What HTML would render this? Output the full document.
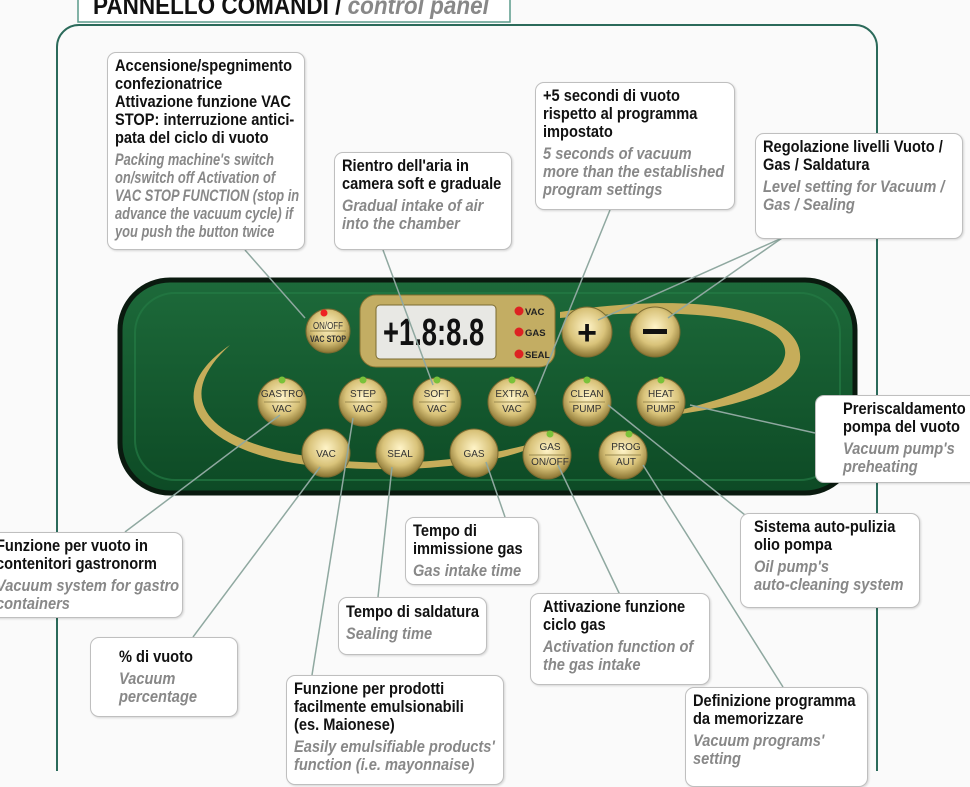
<!DOCTYPE html>
<html><head><meta charset="utf-8">
<style>
body{margin:0;width:970px;height:771px;overflow:hidden;background:#fafafa;position:relative;font-family:"Liberation Sans",sans-serif}
svg{position:absolute;left:0;top:0}
.b{position:absolute;background:#fff;border:1.5px solid #bfbfbf;border-radius:9px;box-shadow:1px 1px 2px rgba(0,0,0,.15);box-sizing:border-box;padding:4px 7px;overflow:hidden}
.b>div{transform:scaleX(.86);transform-origin:0 0;white-space:nowrap;font-size:17px;line-height:18px;font-weight:bold;color:#111}
.b i{display:block;color:#888;margin-top:4px}
.t{position:absolute;font-weight:bold;white-space:nowrap;transform:scaleX(.9);transform-origin:0 0}
</style></head><body>
<svg width="970" height="771" viewBox="0 0 970 771">
<defs>
<radialGradient id="g" cx="50%" cy="40%" r="60%"><stop offset="0" stop-color="#fff4c8"/><stop offset="0.6" stop-color="#d9c37a"/><stop offset="1" stop-color="#8a7432"/></radialGradient>
<linearGradient id="p" x1="0" y1="0" x2="0" y2="1"><stop offset="0" stop-color="#1d6a3a"/><stop offset="1" stop-color="#0d4a25"/></linearGradient>
</defs>
<rect x="78" y="-20" width="432" height="42" fill="#fff" stroke="#5a9a8a" stroke-width="1.5"/>
<rect x="57" y="25" width="820" height="800" rx="22" fill="#fafafa" stroke="#2b6a5a" stroke-width="2"/>
<rect x="120" y="280" width="735" height="213" rx="50" fill="url(#p)" stroke="#0a1a0f" stroke-width="5"/>
<rect x="135" y="293" width="705" height="187" rx="40" fill="none" stroke="#247a45" stroke-width="2" opacity=".7"/>
<path d="M230 345 C150 400 210 460 330 467 C430 475 520 460 545 440 C470 462 380 470 300 455 C200 438 175 395 230 345Z" fill="#c6ad5a"/>
<path d="M560 312 C700 290 805 310 800 360 C795 395 720 410 650 418 C720 400 780 385 785 355 C790 320 700 305 560 318Z" fill="#c6ad5a"/>
<rect x="360" y="295" width="195" height="72" rx="16" fill="#c3ad63" stroke="#8a7432"/>
<rect x="376" y="305" width="120" height="54" rx="4" fill="#e8e8e4" stroke="#7a6a30"/>
<text x="0" y="0" transform="translate(383,345) scale(0.72,1)" font-family="Liberation Sans,sans-serif" font-weight="bold" font-size="38" fill="#111">+1.8:8.8</text>
<g font-family="Liberation Sans,sans-serif" font-weight="bold" font-size="9.5" fill="#222">
<circle cx="519" cy="311" r="4.5" fill="#d22"/><text x="525" y="315">VAC</text>
<circle cx="519" cy="332" r="4.5" fill="#d22"/><text x="525" y="336">GAS</text>
<circle cx="519" cy="354" r="4.5" fill="#d22"/><text x="525" y="358">SEAL</text>
</g>
<g stroke="#7a6a30" fill="url(#g)">
<circle cx="328" cy="331" r="22"/>
<circle cx="587" cy="332" r="25"/><circle cx="655" cy="332" r="25"/>
<circle cx="282" cy="402" r="24"/><circle cx="363" cy="402" r="24"/><circle cx="437" cy="402" r="24"/><circle cx="512" cy="402" r="24"/><circle cx="587" cy="402" r="24"/><circle cx="661" cy="402" r="24"/>
<circle cx="326" cy="453" r="24"/><circle cx="400" cy="453" r="24"/><circle cx="474" cy="453" r="24"/><circle cx="547" cy="455" r="24"/><circle cx="623" cy="455" r="24"/>
</g>
<circle cx="324" cy="313" r="3.5" fill="#e22"/>
<g fill="#7ac23a"><circle cx="282" cy="380" r="3.5"/><circle cx="363" cy="380" r="3.5"/><circle cx="437" cy="380" r="3.5"/><circle cx="512" cy="380" r="3.5"/><circle cx="587" cy="380" r="3.5"/><circle cx="661" cy="380" r="3.5"/><circle cx="550" cy="434" r="3.5"/><circle cx="629" cy="434" r="3.5"/></g>
<g stroke="#9a8a50" stroke-width="1"><line x1="264" y1="402" x2="300" y2="402"/><line x1="345" y1="402" x2="381" y2="402"/><line x1="419" y1="402" x2="455" y2="402"/><line x1="494" y1="402" x2="530" y2="402"/><line x1="569" y1="402" x2="605" y2="402"/><line x1="643" y1="402" x2="679" y2="402"/><line x1="529" y1="455" x2="565" y2="455"/><line x1="605" y1="455" x2="641" y2="455"/><line x1="310" y1="331" x2="346" y2="331"/></g>
<g font-family="Liberation Sans,sans-serif" font-size="10" fill="#333" text-anchor="middle">
<text x="328" y="329" textLength="30" lengthAdjust="spacingAndGlyphs">ON/OFF</text><text x="328" y="342" font-weight="bold" font-size="9" textLength="36" lengthAdjust="spacingAndGlyphs">VAC STOP</text>
<text x="282" y="397">GASTRO</text><text x="282" y="412">VAC</text>
<text x="363" y="397">STEP</text><text x="363" y="412">VAC</text>
<text x="437" y="397">SOFT</text><text x="437" y="412">VAC</text>
<text x="512" y="397">EXTRA</text><text x="512" y="412">VAC</text>
<text x="587" y="397">CLEAN</text><text x="587" y="412">PUMP</text>
<text x="661" y="397">HEAT</text><text x="661" y="412">PUMP</text>
<text x="326" y="457">VAC</text><text x="400" y="457">SEAL</text><text x="474" y="457">GAS</text>
<text x="550" y="450">GAS</text><text x="550" y="465">ON/OFF</text>
<text x="626" y="450">PROG</text><text x="626" y="465">AUT</text>
</g>
<text x="587" y="344" text-anchor="middle" font-family="Liberation Sans" font-weight="bold" font-size="34" fill="#111">+</text>
<rect x="643" y="329" width="24" height="5" fill="#111"/>
<g stroke="#8fa8a0" stroke-width="1.5" fill="none">
<line x1="245" y1="250" x2="305" y2="318"/><line x1="383" y1="250" x2="433" y2="385"/>
<line x1="610" y1="210" x2="535" y2="395"/><line x1="782" y1="238" x2="598" y2="320"/><line x1="782" y1="238" x2="668" y2="318"/>
<line x1="815" y1="433" x2="690" y2="405"/><line x1="745" y1="515" x2="608" y2="405"/>
<line x1="620" y1="595" x2="558" y2="465"/><line x1="505" y1="517" x2="486" y2="462"/>
<line x1="378" y1="597" x2="392" y2="467"/><line x1="125" y1="532" x2="280" y2="415"/>
<line x1="193" y1="637" x2="320" y2="467"/><line x1="312" y1="675" x2="353" y2="418"/>
<line x1="783" y1="687" x2="643" y2="465"/>
</g>
</svg>
<div class="t" style="left:93px;top:-8px;font-size:25px;color:#111">PANNELLO COMANDI / <span style="font-style:italic;color:#888">control panel</span></div>
<div class="b" style="left:107px;top:52px;width:198px;height:198px"><div>Accensione/spegnimento<br>confezionatrice<br>Attivazione funzione VAC<br>STOP: interruzione antici-<br>pata del ciclo di vuoto<i style="transform:scaleX(.88);transform-origin:0 0">Packing machine's switch<br>on/switch off Activation of<br>VAC STOP FUNCTION (stop in<br>advance the vacuum cycle) if<br>you push the button twice</i></div></div>
<div class="b" style="left:334px;top:152px;width:178px;height:98px"><div>Rientro dell'aria in<br>camera soft e graduale<i>Gradual intake of air<br>into the chamber</i></div></div>
<div class="b" style="left:535px;top:82px;width:200px;height:128px"><div>+5 secondi di vuoto<br>rispetto al programma<br>impostato<i>5 seconds of vacuum<br>more than the established<br>program settings</i></div></div>
<div class="b" style="left:755px;top:133px;width:208px;height:106px"><div>Regolazione livelli Vuoto /<br>Gas / Saldatura<i>Level setting for Vacuum /<br>Gas / Sealing</i></div></div>
<div class="b" style="left:815px;top:395px;width:170px;height:88px;padding-left:27px"><div>Preriscaldamento<br>pompa del vuoto<i>Vacuum pump's<br>preheating</i></div></div>
<div class="b" style="left:740px;top:513px;width:180px;height:95px;padding-left:13px"><div>Sistema auto-pulizia<br>olio pompa<i>Oil pump's<br>auto-cleaning system</i></div></div>
<div class="b" style="left:530px;top:593px;width:180px;height:92px;padding-left:12px"><div>Attivazione funzione<br>ciclo gas<i>Activation function of<br>the gas intake</i></div></div>
<div class="b" style="left:405px;top:517px;width:134px;height:68px"><div>Tempo di<br>immissione gas<i>Gas intake time</i></div></div>
<div class="b" style="left:338px;top:597px;width:149px;height:58px;padding-top:5px"><div>Tempo di saldatura<i>Sealing time</i></div></div>
<div class="b" style="left:-12px;top:532px;width:195px;height:86px"><div>Funzione per vuoto in<br>contenitori gastronorm<i>Vacuum system for gastro<br>containers</i></div></div>
<div class="b" style="left:90px;top:637px;width:148px;height:80px;padding:10px 28px"><div>% di vuoto<i>Vacuum<br>percentage</i></div></div>
<div class="b" style="left:286px;top:675px;width:218px;height:110px"><div>Funzione per prodotti<br>facilmente emulsionabili<br>(es. Maionese)<i>Easily emulsifiable products'<br>function (i.e. mayonnaise)</i></div></div>
<div class="b" style="left:685px;top:687px;width:183px;height:100px"><div>Definizione programma<br>da memorizzare<i>Vacuum programs'<br>setting</i></div></div>
</body></html>
